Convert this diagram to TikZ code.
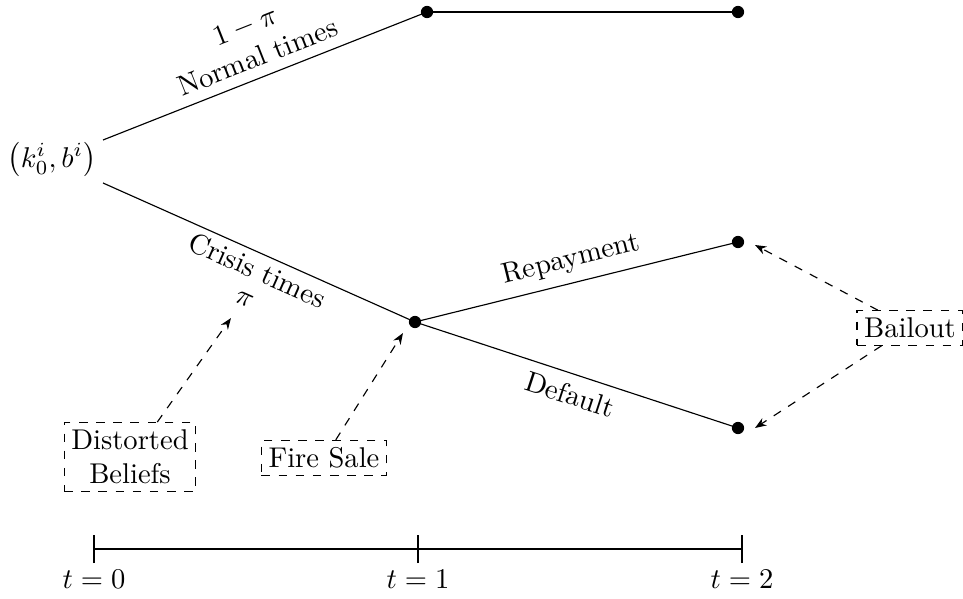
\documentclass[tikz,border=0pt]{standalone}
\usetikzlibrary{arrows.meta}
\begin{document}
\begin{tikzpicture}[x=0.35pt,y=-0.35pt,
  dotnode/.style={circle,fill=black,inner sep=0pt,minimum size=4.3pt},
  dbox/.style={draw,dashed,align=center,inner sep=2.5pt},
  darrow/.style={dashed,-{Stealth[length=4pt,width=3pt]}}]
\useasboundingbox (0,0) rectangle (963,599);
% nodes
\node (root) at (52,160) {$\left(k_0^i, b^i\right)$};
\coordinate (rU) at (103,140);
\coordinate (rD) at (103,183);
\node[dotnode] (n1) at (427,12) {};
\node[dotnode] (n2) at (738,12) {};
\node[dotnode] (c1) at (415,322) {};
\node[dotnode] (rep) at (738,242) {};
\node[dotnode] (def) at (738,428) {};
% tree edges
\draw (rU) -- node[midway,above,sloped,align=center,inner sep=3.5pt] {$1-\pi$\\Normal times} (n1.center);
\draw (n1.center) -- (n2.center);
\draw (rD) -- node[midway,below,sloped,align=center,xshift=2pt,inner sep=2pt] {Crisis times\\[-2pt]$\pi$} (c1.center);
\draw (c1.center) -- node[midway,above,sloped] {Repayment} (rep.center);
\draw (c1.center) -- node[midway,below,sloped] {Default} (def.center);
% boxes
\node[dbox] (db) at (130,457) {Distorted\\Beliefs};
\node[dbox] (fs) at (324,458) {Fire Sale};
\node[dbox] (bo) at (910,328) {Bailout};
\coordinate (piTip) at (231,318);
\coordinate (fsTip) at (403,333);
\coordinate (upTip) at (755,245);
\coordinate (dnTip) at (755,428);
\draw[darrow] (db.52) -- (piTip);
\draw[darrow] (fs.57) -- (fsTip);
\draw[darrow] (bo.151) -- (upTip);
\draw[darrow] (bo.212) -- (dnTip);
% timeline
\coordinate (T0) at (94,549);
\coordinate (T1) at (418,549);
\coordinate (T2) at (742,549);
\draw (T0) -- (T1) -- (T2);
\foreach \p/\l in {T0/0,T1/1,T2/2}{
  \draw ([yshift=-14*0.35pt]\p) -- ([yshift=14*0.35pt]\p);
  \node[below] (lab\l) at ([yshift=-11*0.35pt]\p) {$t=\l$};
}
\end{tikzpicture}
\end{document}
